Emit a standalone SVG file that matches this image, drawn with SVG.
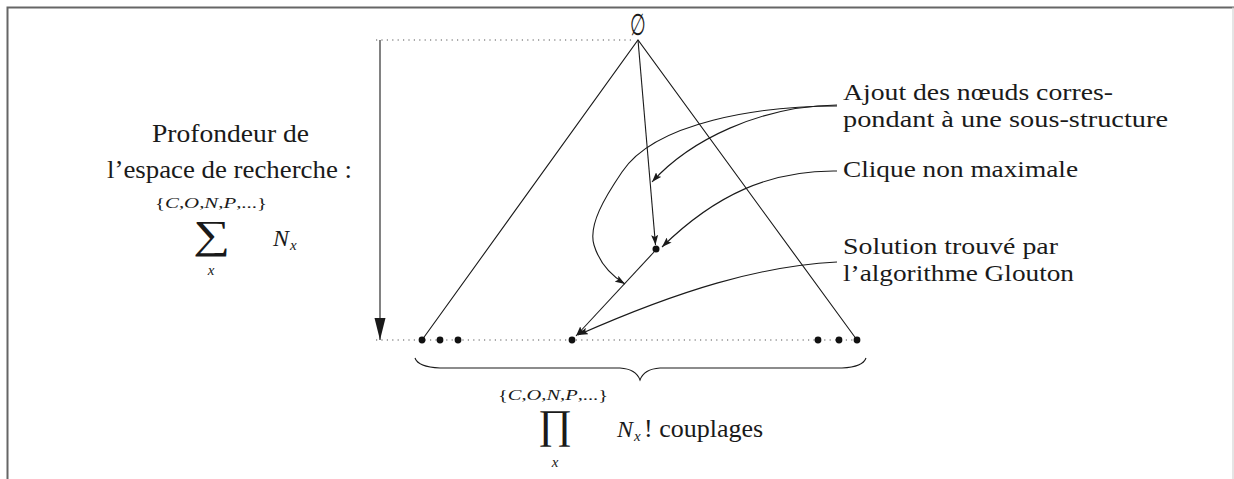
<svg xmlns="http://www.w3.org/2000/svg" width="1234" height="479" viewBox="0 0 1234 479">
<defs>
<style>
.t{font-family:"Liberation Serif","Times New Roman",serif;font-size:26px;fill:#1a1a1a}
.r{font-family:"Liberation Serif","Times New Roman",serif;font-size:24px;fill:#1a1a1a}
.s{font-family:"Liberation Serif","Times New Roman",serif;font-size:15px;fill:#1a1a1a}
.ln{fill:none;stroke:#1a1a1a;stroke-width:1.1}
.dot{fill:none;stroke:#555;stroke-width:1.1;stroke-dasharray:1.2 4.2}
.nd{fill:#111}
</style>
<marker id="ah" markerWidth="11" markerHeight="7" refX="10" refY="3.5" orient="auto" markerUnits="userSpaceOnUse">
<path d="M0,0 L10,3.5 L0,7 L2,3.5 z" fill="#1a1a1a"/>
</marker>
<marker id="big" markerWidth="23" markerHeight="12" refX="22" refY="5.5" orient="auto" markerUnits="userSpaceOnUse">
<path d="M0,0 L22,5.5 L0,11 z" fill="#1a1a1a"/>
</marker>
</defs>
<rect width="1234" height="479" fill="#fff"/>
<g id="frame">
<path d="M7.5,479 L7.5,7.5 L1234,7.5" fill="none" stroke="#666" stroke-width="2"/>
<path d="M1233,7.5 L1233,479" fill="none" stroke="#ddd" stroke-width="1.5"/>
</g>
<g id="connectors">
<path class="dot" d="M376,40 L633,40"/>
<path class="dot" d="M376,340 L858,340"/>
<path class="ln" d="M380,40 L380,340" marker-end="url(#big)"/>
<path class="ln" d="M422,340 L638,40 L857,340"/>
<path class="ln" d="M638,40 L655.5,245" marker-end="url(#ah)"/>
<path class="ln" d="M654,252 L576,336" marker-end="url(#ah)"/>
<path class="ln" d="M837,105 C760,106 690,140 652,182" marker-end="url(#ah)"/>
<path class="ln" d="M837,106 C760,106 655,122 622,172 C605,197 588,225 594,245 C600,265 612,276 625,284" marker-end="url(#ah)"/>
<path class="ln" d="M837,171 C770,170 715,195 662,247" marker-end="url(#ah)"/>
<path class="ln" d="M837,262 C760,266 680,290 578,335" marker-end="url(#ah)"/>
<path class="ln" stroke-width="1.3" d="M415,358 Q418,367 440,368 L620,368 Q636,369 640,380 Q644,369 660,368 L842,368 Q863,367 866,358"/>
</g>
<g id="root">
<text x="0" y="0" transform="translate(638,35) scale(0.6,1)" text-anchor="middle" style="font-family:'DejaVu Serif',serif;font-size:30px;fill:#1a1a1a">∅</text>
</g>
<g id="leaves">
<circle class="nd" cx="422" cy="340" r="3.4"/>
<circle class="nd" cx="440" cy="340" r="3.4"/>
<circle class="nd" cx="458" cy="340" r="3.4"/>
<circle class="nd" cx="572" cy="340" r="3.4"/>
<circle class="nd" cx="818" cy="340" r="3.4"/>
<circle class="nd" cx="839" cy="340" r="3.4"/>
<circle class="nd" cx="857" cy="340" r="3.4"/>
</g>
<g id="clique">
<circle class="nd" cx="656" cy="249" r="3.5"/>
</g>
<g id="depth-label">
<text class="t"><tspan x="152" y="142" textLength="157" lengthAdjust="spacingAndGlyphs">Profondeur de</tspan><tspan x="107" y="178" textLength="245" lengthAdjust="spacingAndGlyphs">l’espace de recherche :</tspan></text>
<text class="s" x="155" y="208" textLength="112" lengthAdjust="spacingAndGlyphs">{<tspan font-style="italic">C</tspan>,<tspan font-style="italic">O</tspan>,<tspan font-style="italic">N</tspan>,<tspan font-style="italic">P</tspan>,...}</text>
<text class="t" x="193" y="248" textLength="37" lengthAdjust="spacingAndGlyphs" style="font-size:40px">∑</text>
<text class="s" x="211" y="275" text-anchor="middle" font-style="italic">x</text>
<text class="t" x="273" y="246" font-style="italic" style="font-size:24px">N</text>
<text class="s" x="290" y="250" font-style="italic">x</text>
</g>
<g id="count-label">
<text class="s" x="498" y="400" textLength="110" lengthAdjust="spacingAndGlyphs">{<tspan font-style="italic">C</tspan>,<tspan font-style="italic">O</tspan>,<tspan font-style="italic">N</tspan>,<tspan font-style="italic">P</tspan>,...}</text>
<text class="t" x="538" y="438" textLength="34" lengthAdjust="spacingAndGlyphs" style="font-size:41px">∏</text>
<text class="s" x="555" y="467" text-anchor="middle" font-style="italic">x</text>
<text class="t" x="617" y="437" font-style="italic" style="font-size:24px">N</text>
<text class="s" x="634" y="441" font-style="italic">x</text>
<text class="t" x="644" y="437">! couplages</text>
</g>
<g id="label-ajout">
<text class="r"><tspan x="843" y="100" textLength="270" lengthAdjust="spacingAndGlyphs">Ajout des nœuds corres-</tspan><tspan x="843" y="127" textLength="325" lengthAdjust="spacingAndGlyphs">pondant à une sous-structure</tspan></text>
</g>
<g id="label-clique">
<text class="r" x="843" y="177" textLength="235" lengthAdjust="spacingAndGlyphs">Clique non maximale</text>
</g>
<g id="label-solution">
<text class="r"><tspan x="843" y="254" textLength="215" lengthAdjust="spacingAndGlyphs">Solution trouvé par</tspan><tspan x="843" y="281" textLength="231" lengthAdjust="spacingAndGlyphs">l’algorithme Glouton</tspan></text>
</g>
</svg>
